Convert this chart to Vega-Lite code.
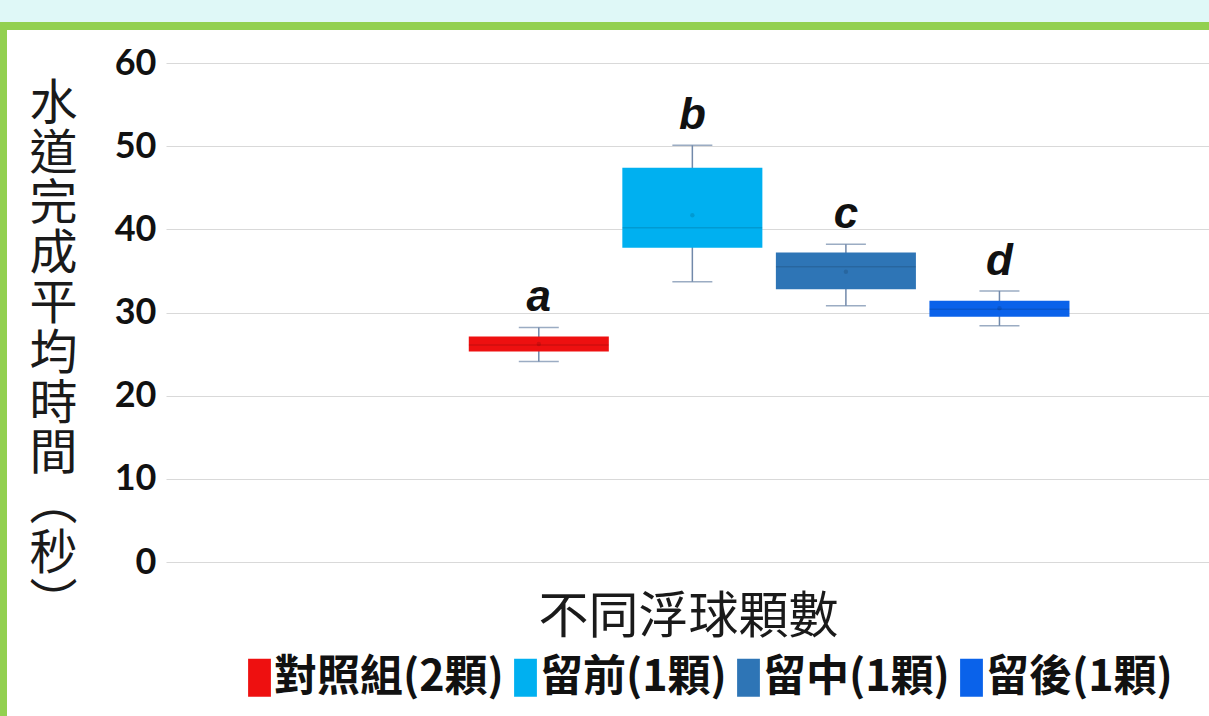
{
  "$schema": "https://vega.github.io/schema/vega-lite/v6.json",
  "padding": 0,
  "background": "white",
  "spacing": 0,
  "config": {"view": {"stroke": null}},
  "vconcat": [
    {
      "width": 1209, "height": 22,
      "view": {"fill": "#dff8f7", "stroke": null},
      "data": {"values": []},
      "mark": "rule",
      "encoding": {}
    },
    {
      "width": 1209, "height": 8,
      "view": {"fill": "#92d050", "stroke": null},
      "data": {"values": []},
      "mark": "rule",
      "encoding": {}
    },
    {
      "spacing": 21,
      "hconcat": [
        {
          "width": 7, "height": 686,
          "view": {"fill": "#92d050", "stroke": null},
          "data": {"values": []},
          "mark": "rule",
          "encoding": {}
        },
        {
          "spacing": 0,
          "vconcat": [
            {
              "width": 1, "height": 15,
              "view": {"stroke": null},
              "data": {"values": []},
              "mark": "rule",
              "encoding": {}
            },
            {
              "width": 1044,
              "height": 499,
              "data": {
                "values": [
                  {"group": "對照組(2顆)", "lower": 24.1, "q1": 25.3, "median": 26.1, "q3": 27.1, "upper": 28.2, "mean": 26.2, "label": "a"},
                  {"group": "留前(1顆)", "lower": 33.7, "q1": 37.8, "median": 40.2, "q3": 47.4, "upper": 50.1, "mean": 41.7, "label": "b"},
                  {"group": "留中(1顆)", "lower": 30.8, "q1": 32.8, "median": 35.5, "q3": 37.2, "upper": 38.2, "mean": 34.9, "label": "c"},
                  {"group": "留後(1顆)", "lower": 28.4, "q1": 29.5, "median": 30.4, "q3": 31.4, "upper": 32.6, "mean": 30.5, "label": "d"}
                ]
              },
              "encoding": {
                "x": {
                  "datum": "不同浮球顆數", "type": "nominal",
                  "scale": {"paddingInner": 0, "paddingOuter": 0.369, "align": 0.683},
                  "axis": {
                    "labels": false, "ticks": false, "domain": false, "grid": false,
                    "title": "不同浮球顆數",
                    "titleFont": "Noto Sans CJK TC", "titleFontSize": 50, "titleFontWeight": "normal",
                    "titleColor": "#1a1a1a", "titlePadding": 30
                  }
                },
                "xOffset": {
                  "field": "group", "type": "nominal", "sort": null,
                  "scale": {
                    "domain": ["對照組(2顆)", "留前(1顆)", "留中(1顆)", "留後(1顆)"],
                    "paddingInner": 0.088, "paddingOuter": 0
                  }
                }
              },
              "layer": [
                {
                  "mark": {"type": "rule", "color": "#7189aa", "strokeWidth": 1.5},
                  "encoding": {
                    "y": {
                      "field": "lower", "type": "quantitative",
                      "scale": {"domain": [0, 60], "nice": false, "zero": true},
                      "axis": {
                        "values": [0, 10, 20, 30, 40, 50, 60],
                        "grid": true, "gridColor": "#d9d9d9", "gridWidth": 1,
                        "domain": false, "ticks": false,
                        "labelFont": "Lato", "labelFontWeight": "bold", "labelFontSize": 36,
                        "labelColor": "#111111", "labelPadding": 10,
                        "title": ["水", "道", "完", "成", "平", "均", "時", "間", "︵", "秒", "︶"],
                        "titleAngle": 0, "titleFont": "Noto Sans CJK TC", "titleFontWeight": "normal",
                        "titleFontSize": 48, "titleLineHeight": 50, "titleAlign": "center",
                        "titleBaseline": "top", "titleX": -113, "titleY": 17, "titleColor": "#1a1a1a"
                      }
                    },
                    "y2": {"field": "upper"}
                  }
                },
                {
                  "mark": {"type": "bar"},
                  "encoding": {
                    "y": {"field": "q1", "type": "quantitative"},
                    "y2": {"field": "q3"},
                    "color": {
                      "field": "group", "type": "nominal",
                      "scale": {
                        "domain": ["對照組(2顆)", "留前(1顆)", "留中(1顆)", "留後(1顆)"],
                        "range": ["#ee1010", "#00b0f0", "#2e75b6", "#0a62ea"]
                      },
                      "legend": {
                        "orient": "none", "legendX": 238, "legendY": 656,
                        "direction": "horizontal", "columns": 4, "title": null,
                        "padding": 0,
                        "labelFont": "Noto Sans CJK TC", "labelFontWeight": "bold", "labelFontSize": 43,
                        "labelColor": "#111111", "labelLimit": 400,
                        "symbolType": "M-0.6,-1H0.6V1H-0.6Z", "symbolSize": 1444,
                        "symbolStrokeWidth": 0, "symbolOpacity": 1,
                        "labelOffset": -7, "columnPadding": -12
                      }
                    }
                  }
                },
                {
                  "mark": {"type": "tick", "color": "#000000", "opacity": 0.12, "thickness": 1.5, "size": 140},
                  "encoding": {"y": {"field": "median", "type": "quantitative"}}
                },
                {
                  "mark": {"type": "point", "filled": true, "color": "#000000", "opacity": 0.12, "size": 20},
                  "encoding": {"y": {"field": "mean", "type": "quantitative"}}
                },
                {
                  "mark": {"type": "tick", "color": "#7189aa", "thickness": 1.5, "size": 40},
                  "encoding": {"y": {"field": "lower", "type": "quantitative"}}
                },
                {
                  "mark": {"type": "tick", "color": "#7189aa", "thickness": 1.5, "size": 40},
                  "encoding": {"y": {"field": "upper", "type": "quantitative"}}
                },
                {
                  "mark": {
                    "type": "text", "font": "Liberation Sans", "fontSize": 44, "fontWeight": "bold",
                    "fontStyle": "italic", "color": "#111111", "baseline": "alphabetic", "dy": -16
                  },
                  "encoding": {
                    "y": {"field": "upper", "type": "quantitative"},
                    "text": {"field": "label"}
                  }
                }
              ]
            }
          ]
        }
      ]
    }
  ]
}
